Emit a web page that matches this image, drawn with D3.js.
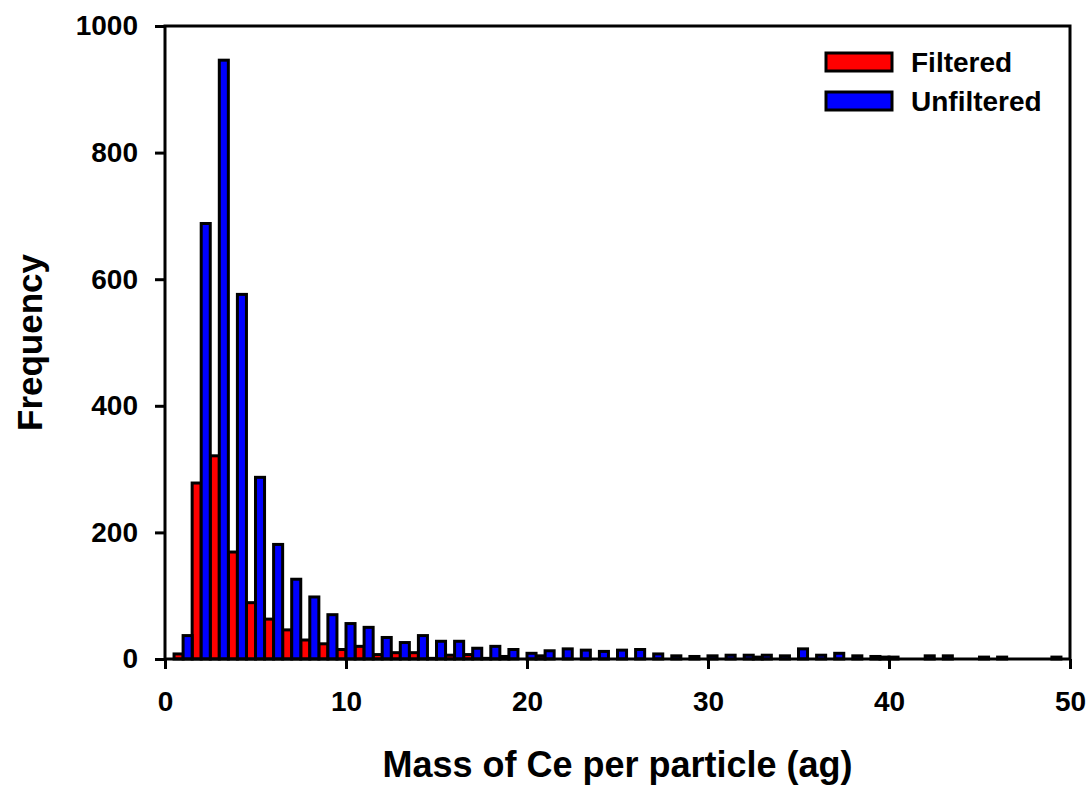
<!DOCTYPE html>
<html>
<head>
<meta charset="utf-8">
<script src="https://cdn.jsdelivr.net/npm/d3@7"></script>
<style>
  html, body { margin: 0; padding: 0; background: #fff; }
  svg { display: block; }
  text { font-family: "Liberation Sans", Arial, sans-serif; font-weight: bold; fill: #000; }
</style>
</head>
<body>
<svg id="chart" width="1091" height="786"></svg>
<script>
// Histogram bins (ag), one per integer mass value
const bins = d3.range(1, 50);

// Counts per bin, Filtered sample
const filtered = [
  8, 278, 321, 169, 89, 63, 46, 30, 24, 15,
  20, 7, 10, 10, 1, 6, 7, 1, 4, 0,
  5, 0, 0, 0, 0, 0, 0, 0, 0, 0,
  0, 0, 3, 0, 0, 0, 0, 0, 0, 3,
  0, 0, 0, 0, 0, 0, 0, 0, 0
];

// Counts per bin, Unfiltered sample
const unfiltered = [
  37, 688, 946, 576, 287, 181, 126, 98, 70, 56,
  50, 34, 26, 37, 28, 28, 17, 20, 15, 9,
  13, 16, 14, 12, 14, 15, 8, 5, 4, 5,
  6, 6, 6, 5, 16, 6, 9, 5, 4, 3,
  0, 5, 5, 0, 3, 3, 0, 0, 3
];

const xTicks = [0, 10, 20, 30, 40, 50];
const yTicks = [0, 200, 400, 600, 800, 1000];

const seriesNames = ["Filtered", "Unfiltered"];
const seriesColors = ["#ff0000", "#0000ff"];

const svg = d3.select("#chart");
const plotLeft = 165, plotRight = 1070, plotTop = 26, plotBottom = 659;

const x = d3.scaleLinear().domain([0, 50]).range([plotLeft, plotRight]);
const y = d3.scaleLinear().domain([0, 1000]).range([plotBottom, plotTop]);

// Each bin holds two side-by-side bars: filtered left of the bin value, unfiltered right
const half = 0.5;
const series = [filtered, unfiltered];
series.forEach((vals, si) => {
  svg.append("g")
    .selectAll("rect")
    .data(bins.map((b, i) => ({ b, v: vals[i] })))
    .join("rect")
    .attr("x", d => x(d.b - half + si * half))
    .attr("width", d => x(half) - x(0))
    .attr("y", d => y(d.v))
    .attr("height", d => y(0) - y(d.v))
    .attr("fill", seriesColors[si])
    .attr("stroke", "#000")
    .attr("stroke-width", 3);
});

// Axes
const xAxis = svg.append("g")
  .attr("transform", `translate(0,${plotBottom})`)
  .call(d3.axisBottom(x).tickValues(xTicks).tickSize(10).tickPadding(22).tickFormat(d3.format("d")));
const yAxis = svg.append("g")
  .attr("transform", `translate(${plotLeft},0)`)
  .call(d3.axisLeft(y).tickValues(yTicks).tickSize(10).tickPadding(17).tickFormat(d3.format("d")));

[xAxis, yAxis].forEach(g => {
  g.select(".domain").remove();
  g.selectAll(".tick line").attr("stroke", "#000").attr("stroke-width", 3);
  g.selectAll(".tick text").style("font-size", "28px").style("font-weight", "bold")
    .attr("fill", "#000");
});

// Plot frame
svg.append("rect")
  .attr("x", plotLeft).attr("y", plotTop)
  .attr("width", plotRight - plotLeft).attr("height", plotBottom - plotTop)
  .attr("fill", "none").attr("stroke", "#000").attr("stroke-width", 3);

// Axis titles
svg.append("text")
  .attr("x", (plotLeft + plotRight) / 2).attr("y", 777)
  .attr("text-anchor", "middle")
  .style("font-size", "36px")
  .text("Mass of Ce per particle (ag)");

svg.append("text")
  .attr("transform", `translate(42,${(plotTop + plotBottom) / 2}) rotate(-90)`)
  .attr("text-anchor", "middle")
  .style("font-size", "35px")
  .text("Frequency");

// Legend
const legend = svg.append("g");
seriesNames.forEach((name, i) => {
  const ly = 53 + i * 39;
  legend.append("rect")
    .attr("x", 826).attr("y", ly)
    .attr("width", 66).attr("height", 18)
    .attr("fill", seriesColors[i])
    .attr("stroke", "#000").attr("stroke-width", 3);
  legend.append("text")
    .attr("x", 911).attr("y", ly + 19)
    .style("font-size", "28px")
    .text(name);
});
</script>
</body>
</html>
